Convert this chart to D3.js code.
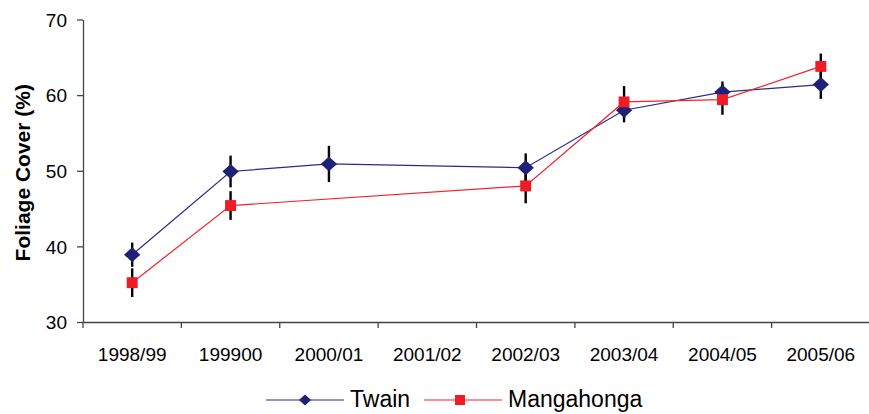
<!DOCTYPE html>
<html>
<head>
<meta charset="utf-8">
<script src="https://cdn.jsdelivr.net/npm/d3@7"></script>
<style>
  body { margin: 0; background: #fff; }
  text { font-family: "Liberation Sans", Arial, sans-serif; fill: #000; }
</style>
</head>
<body>
<svg width="869" height="414"></svg>
<script>
// chart data
var seasons = ["1998/99", "199900", "2000/01", "2001/02", "2002/03", "2003/04", "2004/05", "2005/06"];
var twain = [38.9, 49.9, 50.9, null, 50.4, 58.0, 60.4, 61.4];
var twainErr = [1.6, 2.1, 2.4, null, 1.9, 1.6, 1.4, 1.9];
var manga = [35.2, 45.4, null, null, 48.0, 59.1, 59.4, 63.8];
var mangaErr = [1.9, 1.9, null, null, 2.3, 2.1, 2.0, 1.7];
var yTicks = [30, 40, 50, 60, 70];

var svg = d3.select("svg");
var mLeft = 83, mRight = 870, mTop = 19.5, mBottom = 322;

var x = d3.scaleBand().domain(seasons).range([mLeft, mRight]);
var y = d3.scaleLinear().domain([30, 70]).range([mBottom, mTop]);

var navyLine = "#2b2b86", navyMark = "#1f2177";
var redLine = "#f5222a", redMark = "#ee1c24";

// axes
var yAxis = svg.append("g")
    .attr("transform", "translate(" + mLeft + ",0)")
    .call(d3.axisLeft(y).tickValues(yTicks).tickSize(6).tickSizeOuter(0).tickPadding(10));
yAxis.select(".domain").attr("stroke", "#444").attr("stroke-width", 1.3);
yAxis.selectAll(".tick line").attr("stroke", "#444").attr("stroke-width", 1.3);
yAxis.selectAll("text").style("font-size", "19px").attr("dy", "0.36em");

var xAxis = svg.append("g")
    .attr("transform", "translate(0," + mBottom + ")")
    .call(d3.axisBottom(x).tickSize(0).tickPadding(39));
xAxis.select(".domain").attr("stroke", "#444").attr("stroke-width", 1.3);
xAxis.selectAll("text").style("font-size", "19px").attr("dy", "0");
// tick marks sit on band edges
xAxis.selectAll(".edge")
    .data(seasons)
  .enter().append("line")
    .attr("class", "edge")
    .attr("x1", function(d) { return x(d); })
    .attr("x2", function(d) { return x(d); })
    .attr("y1", 0).attr("y2", 6)
    .attr("stroke", "#444").attr("stroke-width", 1.3);

svg.append("text")
    .attr("transform", "translate(30," + ((mTop + mBottom) / 2 + 2) + ") rotate(-90)")
    .attr("text-anchor", "middle")
    .style("font-size", "21px")
    .style("font-weight", "bold")
    .text("Foliage Cover (%)");

function cx(i) { return x(seasons[i]) + x.bandwidth() / 2; }

// error bars
function errBars(vals, errs) {
    svg.append("g").selectAll("line")
        .data(vals.map(function(v, i) { return {i: i, v: v, e: errs[i]}; }).filter(function(d) { return d.v != null; }))
      .enter().append("line")
        .attr("x1", function(d) { return cx(d.i); })
        .attr("x2", function(d) { return cx(d.i); })
        .attr("y1", function(d) { return y(d.v - d.e); })
        .attr("y2", function(d) { return y(d.v + d.e); })
        .attr("stroke", "#000")
        .attr("stroke-width", 2.4);
}
errBars(twain, twainErr);
errBars(manga, mangaErr);

var line = d3.line()
    .x(function(d) { return cx(d.i); })
    .y(function(d) { return y(d.v); });

function pts(vals) {
    return vals.map(function(v, i) { return {i: i, v: v}; }).filter(function(d) { return d.v != null; });
}

svg.append("path").datum(pts(twain))
    .attr("d", line).attr("fill", "none").attr("stroke", navyLine).attr("stroke-width", 1.2);
svg.append("path").datum(pts(manga))
    .attr("d", line).attr("fill", "none").attr("stroke", redLine).attr("stroke-width", 1.2);

// diamond = square turned 45 degrees
var diamond = d3.symbol().type(d3.symbolSquare).size(110);
var square = d3.symbol().type(d3.symbolSquare).size(120);

svg.append("g").selectAll("path")
    .data(pts(twain))
  .enter().append("path")
    .attr("d", diamond)
    .attr("transform", function(d) { return "translate(" + cx(d.i) + "," + y(d.v) + ") scale(1.1,1) rotate(45)"; })
    .attr("fill", navyMark);

svg.append("g").selectAll("path")
    .data(pts(manga))
  .enter().append("path")
    .attr("d", square)
    .attr("transform", function(d) { return "translate(" + cx(d.i) + "," + y(d.v) + ")"; })
    .attr("fill", redMark);

// legend
var lg = svg.append("g").attr("transform", "translate(0,400)");
lg.append("line").attr("x1", 266).attr("x2", 344).attr("stroke", navyLine).attr("stroke-width", 1.2);
lg.append("path").attr("d", d3.symbol().type(d3.symbolSquare).size(60))
    .attr("transform", "translate(305,0) scale(1.1,1) rotate(45)").attr("fill", navyMark);
lg.append("text").attr("x", 350).attr("y", 7).style("font-size", "23px").text("Twain");
lg.append("line").attr("x1", 424).attr("x2", 502).attr("stroke", redLine).attr("stroke-width", 1.2);
lg.append("path").attr("d", d3.symbol().type(d3.symbolSquare).size(100)).attr("transform", "translate(460,0)").attr("fill", redMark);
lg.append("text").attr("x", 508).attr("y", 7).style("font-size", "23px").text("Mangahonga");
</script>
</body>
</html>
